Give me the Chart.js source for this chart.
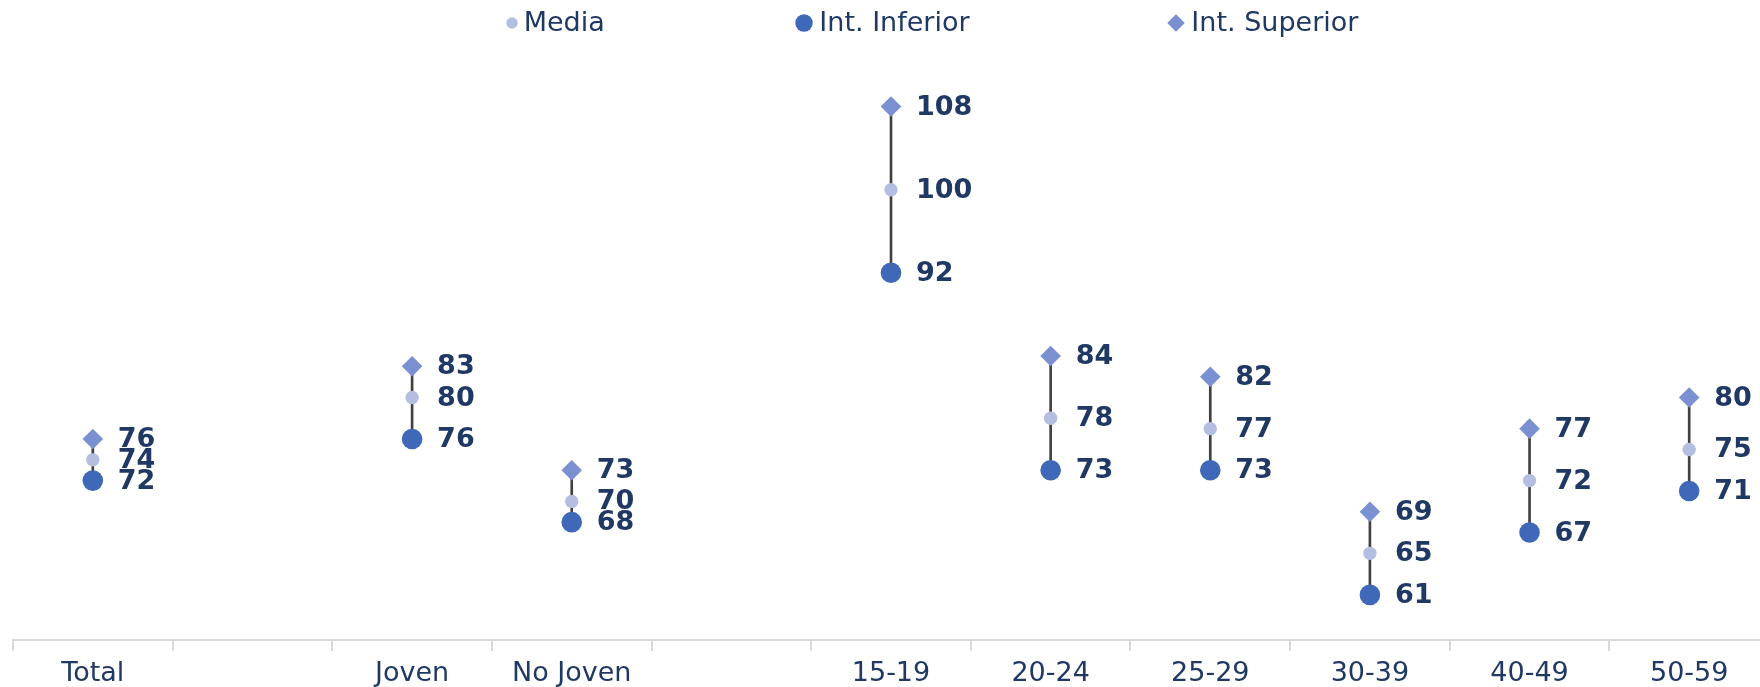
<!DOCTYPE html>
<html>
<head>
<meta charset="utf-8">
<script src="https://cdn.jsdelivr.net/npm/chart.js@4.4.1/dist/chart.umd.min.js"></script>
<style>
  html, body { margin: 0; padding: 0; background: #fff; overflow: hidden; }
  #wrap { position: relative; width: 1760px; height: 687px; overflow: hidden; }
  #rangeChart { position: absolute; left: 0; top: 0; }
</style>
</head>
<body>
<div id="wrap"><canvas id="rangeChart" width="1770" height="687"></canvas></div>
<script>
// categories (blank slots are gaps between groups)
const categories = ["Total", "", "Joven", "No Joven", "", "15-19", "20-24", "25-29", "30-39", "40-49", "50-59"];
const media = [74, null, 80, 70, null, 100, 78, 77, 65, 72, 75];
const intInferior = [72, null, 76, 68, null, 92, 73, 73, 61, 67, 71];
const intSuperior = [76, null, 83, 73, null, 108, 84, 82, 69, 77, 80];

const navy = "#1F3864";
const fontFamily = "'DejaVu Sans', Verdana, sans-serif";

// high-low line between the two interval ends
const rangeLine = intInferior.map((v, i) => (v === null ? null : [v, intSuperior[i]]));

// value labels to the right of each marker
const valueLabels = {
  id: "valueLabels",
  afterDatasetsDraw(chart) {
    const ctx = chart.ctx;
    ctx.save();
    ctx.font = "bold 27px " + fontFamily;
    ctx.fillStyle = navy;
    ctx.textAlign = "left";
    ctx.textBaseline = "middle";
    chart.data.datasets.forEach((ds, di) => {
      if (ds.type === "bar") return;
      const meta = chart.getDatasetMeta(di);
      meta.data.forEach((pt, i) => {
        const v = ds.data[i];
        if (v === null || v === undefined) return;
        ctx.fillText(String(v), pt.x + 25, pt.y + 1);
      });
    });
    ctx.restore();
  },
};

// legend drawn like the Excel one: widely spaced items on top
const legendSpots = [512, 804, 1176];
const topLegend = {
  id: "topLegend",
  afterDraw(chart) {
    const ctx = chart.ctx;
    const y = 23;
    ctx.save();
    ctx.font = "27px " + fontFamily;
    ctx.textBaseline = "middle";
    ctx.textAlign = "left";
    const items = chart.data.datasets.filter((d) => d.type !== "bar");
    items.forEach((ds, k) => {
      const x = legendSpots[k];
      const r = ds.pointRadius * 0.85;
      ctx.fillStyle = ds.pointBackgroundColor;
      ctx.beginPath();
      if (ds.pointStyle === "rectRot") {
        ctx.moveTo(x, y - r);
        ctx.lineTo(x + r, y);
        ctx.lineTo(x, y + r);
        ctx.lineTo(x - r, y);
      } else {
        ctx.arc(x, y, r, 0, Math.PI * 2);
      }
      ctx.closePath();
      ctx.fill();
      ctx.fillStyle = navy;
      ctx.fillText(ds.label, x + ds.pointRadius + 5, y + 1);
    });
    ctx.restore();
  },
};

const ctx = document.getElementById("rangeChart").getContext("2d");
const chart = new Chart(ctx, {
  data: {
    labels: categories,
    datasets: [
      {
        type: "line",
        label: "Media",
        data: media,
        showLine: false,
        pointStyle: "circle",
        pointRadius: 6.7,
        pointBackgroundColor: "#B4BEE0",
        pointBorderWidth: 0,
        order: 1,
      },
      {
        type: "line",
        label: "Int. Inferior",
        data: intInferior,
        showLine: false,
        pointStyle: "circle",
        pointRadius: 10.3,
        pointBackgroundColor: "#3F69B8",
        pointBorderWidth: 0,
        order: 1,
      },
      {
        type: "line",
        label: "Int. Superior",
        data: intSuperior,
        showLine: false,
        pointStyle: "rectRot",
        pointRadius: 10.3,
        pointBackgroundColor: "#7A90D0",
        pointBorderWidth: 0,
        order: 1,
      },
      {
        type: "bar",
        label: "rango",
        data: rangeLine,
        backgroundColor: "#404040",
        barThickness: 2,
        order: 5,
      },
    ],
  },
  options: {
    responsive: false,
    animation: false,
    devicePixelRatio: 1,
    // the plot runs a little past the right edge, as in the source picture
    layout: { autoPadding: false, padding: { left: 13, right: 1, top: 65, bottom: 0 } },
    plugins: {
      legend: { display: false },
      tooltip: { enabled: false },
    },
    scales: {
      x: {
        offset: true,
        afterFit: (scale) => {
          scale.height = 47;
        },
        grid: {
          offset: true,
          drawOnChartArea: false,
          drawTicks: true,
          tickLength: 11,
          color: "#D9D9D9",
          lineWidth: 2,
        },
        border: { display: true, color: "#D9D9D9", width: 2 },
        ticks: {
          color: navy,
          padding: 10,
          font: { family: fontFamily, size: 27, lineHeight: 0.96 },
          maxRotation: 0,
          autoSkip: false,
        },
      },
      y: {
        display: false,
        min: 56.66,
        max: 112,
      },
    },
  },
  plugins: [valueLabels, topLegend],
});
</script>
</body>
</html>
